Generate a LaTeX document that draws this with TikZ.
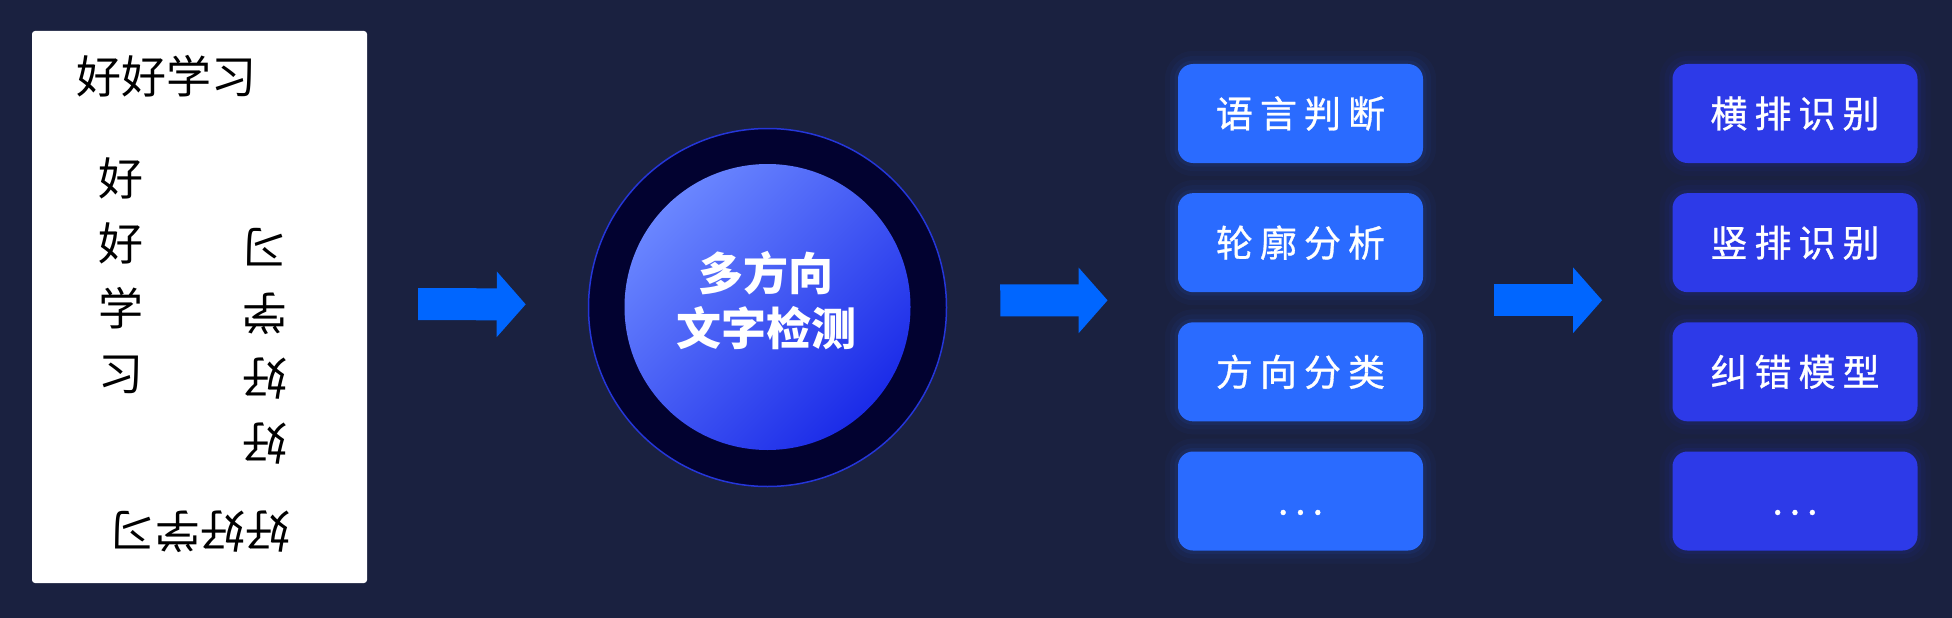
\documentclass[tikz,border=0pt]{standalone}
\usepackage{fontspec}
\setmainfont{Noto Sans CJK SC}
\newfontfamily\widecjk[LetterSpace=19, FakeBold=0.8]{Noto Sans CJK SC}
\usetikzlibrary{arrows.meta,fit}

\definecolor{pagebg}{HTML}{1A2140}
\definecolor{flowblue}{HTML}{0066FF}
\definecolor{ringfill}{HTML}{020230}
\definecolor{ringline}{HTML}{2536D9}
\definecolor{coreA}{HTML}{6A86FF}
\definecolor{coreB}{HTML}{1B2BE8}
\definecolor{stepA}{HTML}{2A6BFF}
\definecolor{stepB}{HTML}{2D3AE8}
\newcommand\moredots{\vphantom{语}...}

\tikzset{
  card/.style={fill=white, rounded corners=3pt, minimum width=335pt, minimum height=552pt, inner sep=0pt},
  glyphs/.style={font=\fontsize{45}{65}\selectfont, align=center, inner sep=0pt},
  flow/.style={draw=flowblue, line width=32pt, -{Triangle[length=29pt,width=64pt]}},
  glow/.style={preaction={draw=#1, draw opacity=0.04, line width=26pt},
               preaction={draw=#1, draw opacity=0.05, line width=16pt},
               preaction={draw=#1, draw opacity=0.08, line width=7pt}},
  stepbox/.style={fill=#1, glow=#1, rounded corners=15pt, minimum width=245pt, minimum height=99pt,
                  inner sep=0pt, text=white, font=\widecjk\fontsize{37}{37}\selectfont}
}

\begin{document}
\begin{tikzpicture}[x=1pt, y=-1pt]
    \fill[pagebg] (0,0) rectangle (1952,618);

    \node[card] at (199.5,307) (card) {};
    \node[glyphs] at (166,76) (rowtop) {好好学习};
    \node[glyphs] at (121,275.5) (colleft) {好\\好\\学\\习};
    \node[glyphs, rotate=180] at (265,346.5) (colright) {好\\好\\学\\习};
    \node[glyphs, rotate=180] at (200,532) (rowbottom) {好好学习};

    \node[circle, fill=ringfill, draw=ringline, line width=1.5pt, minimum size=358pt, inner sep=0pt] at (767.5,307.5) (ring) {};
    \node[circle, minimum size=286pt, inner sep=0pt, top color=coreA, bottom color=coreB, shading angle=45] at (767.5,307) (core) {};
    \node[text=white, align=center, font=\bfseries\fontsize{45}{55}\selectfont] at (766,300.5) (title) {多方向\\文字检测};

    \foreach \t [count=\i] in {语言判断,轮廓分析,方向分类,\moredots}
      \node[stepbox=stepA] at (1300.5,{113.5+129.17*(\i-1)}) (l\i) {\t};
    \foreach \t [count=\i] in {横排识别,竖排识别,纠错模型,\moredots}
      \node[stepbox=stepB] at (1795,{113.5+129.17*(\i-1)}) (r\i) {\t};
    \node[fit=(l1)(l4), inner sep=0pt] (lcol) {};
    \node[fit=(r1)(r4), inner sep=0pt] (rcol) {};

    \draw[flow, shorten <=51pt, shorten >=62pt] ([yshift=3pt]card.east) -- ([yshift=3pt]ring.west);
    \draw[flow, shorten <=53pt, shorten >=70pt] ([yshift=7pt]ring.east) -- ([yshift=7pt]lcol.west);
    \draw[flow, shorten <=71pt, shorten >=70pt] ([yshift=7pt]lcol.east) -- ([yshift=7pt]rcol.west);
\end{tikzpicture}
\end{document}
